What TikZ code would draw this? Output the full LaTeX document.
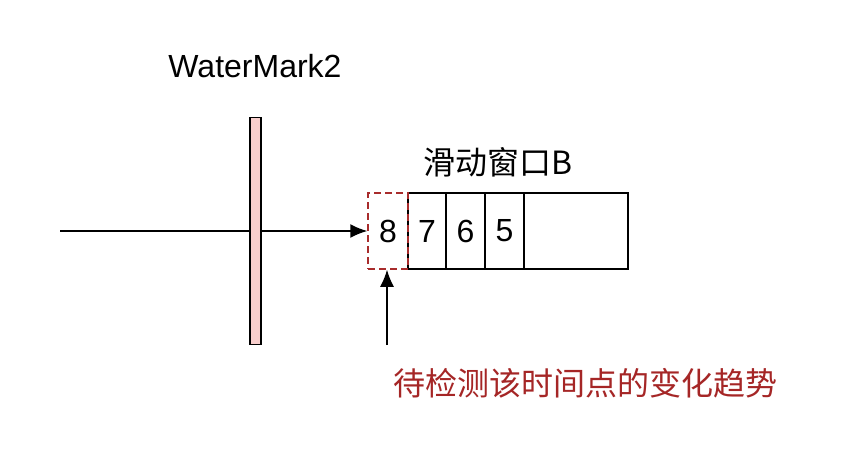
\documentclass[tikz,border=0pt]{standalone}
\usepackage{fontspec}
\setmainfont{Liberation Sans}
\newfontfamily\cjk{Noto Sans CJK SC}
\usepackage{tikz}
\usetikzlibrary{arrows.meta}

\definecolor{wmpink}{RGB}{248,206,204}
\definecolor{dashred}{RGB}{168,44,44}
\definecolor{textred}{RGB}{165,38,38}

\tikzset{
  cell/.style={draw, line width=1.5pt, minimum height=76pt, inner sep=0pt, font=\fontsize{32}{38}\selectfont},
  bar/.style={draw, line width=1.5pt, fill=wmpink, minimum width=11pt, minimum height=227pt, inner sep=0pt},
  label/.style={font=\fontsize{32}{38}\selectfont, inner sep=0pt}
}

\begin{document}
\begin{tikzpicture}[x=1pt,y=-1pt,>={Latex[length=17pt,width=14pt]},line width=1.5pt]
\useasboundingbox (0,0) rectangle (862,464);
% watermark bar
\node[bar] (wm) at (255.5,231) {};
\node[label,anchor=base] (wmlabel) at (255,77) {WaterMark2};
\coordinate (in) at (60,231);
% window cells
\node[cell,minimum width=38pt] (c7) at (427,231) {7};
\node[cell,minimum width=39pt] (c6) at (465.5,231) {6};
\node[cell,minimum width=39pt] (c5) at (504.5,231) {5};
\node[cell,minimum width=104pt] (cfree) at (576,231) {};
\node[cell,minimum width=40pt,draw=dashred,dash pattern=on 7pt off 4pt] (c8) at (388,231) {8};
\node[label] (wname) at (498,162) {\cjk 滑动窗口B};
% arrows
\draw (in) -- (wm.west);
\draw[->] (wm.east) -- (c8.west);
\coordinate (tail) at (387,345);
\draw[->] (tail) -- (tail |- c8.south);
\node[label,text=textred] (note) at (585,383) {\cjk 待检测该时间点的变化趋势};
\end{tikzpicture}
\end{document}
